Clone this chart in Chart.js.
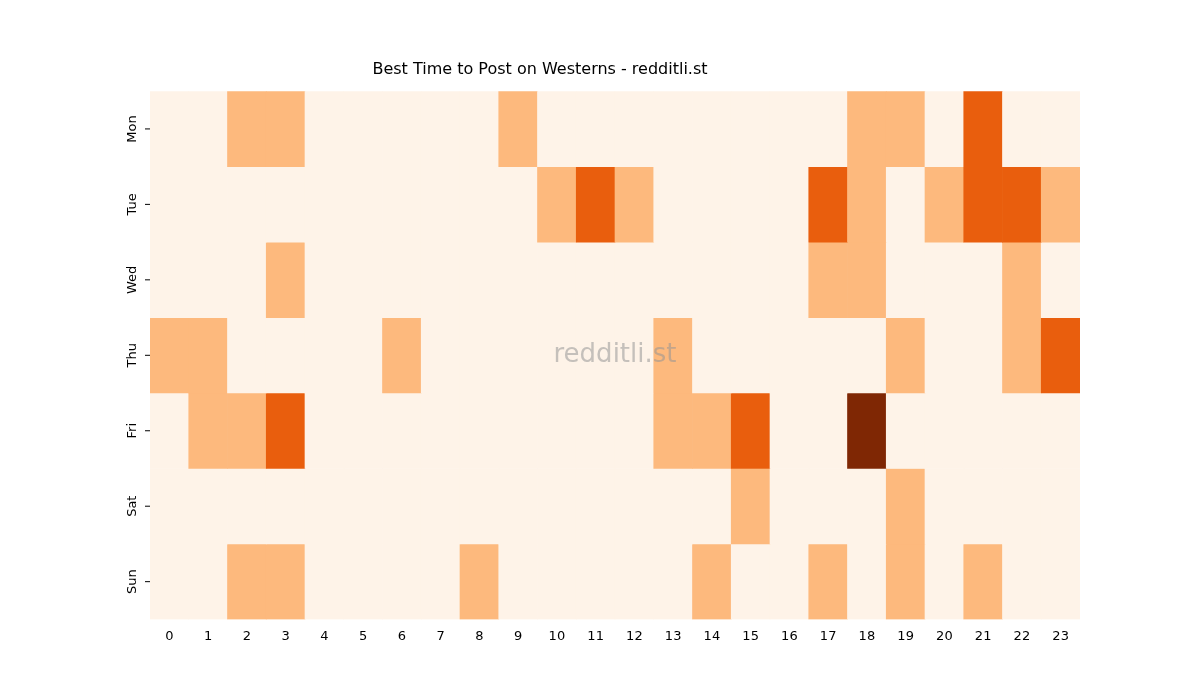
<!DOCTYPE html>
<html><head><meta charset="utf-8">
<script src="https://cdn.jsdelivr.net/npm/chart.js@4"></script>
<style>html,body{margin:0;padding:0;background:#fff}#w{width:1200px;height:700px}</style>
</head><body><div id="w"><canvas id="c"></canvas></div>
<script>
const hours = ["0","1","2","3","4","5","6","7","8","9","10","11","12","13","14","15","16","17","18","19","20","21","22","23"];
const days = ["Mon","Tue","Wed","Thu","Fri","Sat","Sun"];
const mon = [0,0,1,1,0,0,0,0,0,1,0,0,0,0,0,0,0,0,1,1,0,2,0,0];
const tue = [0,0,0,0,0,0,0,0,0,0,1,2,1,0,0,0,0,2,1,0,1,2,2,1];
const wed = [0,0,0,1,0,0,0,0,0,0,0,0,0,0,0,0,0,1,1,0,0,0,1,0];
const thu = [1,1,0,0,0,0,1,0,0,0,0,0,0,1,0,0,0,0,0,1,0,0,1,2];
const fri = [0,1,1,2,0,0,0,0,0,0,0,0,0,1,1,2,0,0,3,0,0,0,0,0];
const sat = [0,0,0,0,0,0,0,0,0,0,0,0,0,0,0,1,0,0,0,1,0,0,0,0];
const sun = [0,0,1,1,0,0,0,0,1,0,0,0,0,0,1,0,0,1,0,1,0,1,0,0];
const rows = [mon,tue,wed,thu,fri,sat,sun];
const palette = ["#fef3e8","#fdb97d","#e95e0d","#7f2704"];
const datasets = rows.map((vals,r)=>({
  label: days[r],
  data: hours.map(()=>[r-0.5,r+0.5]),
  backgroundColor: vals.map(v=>palette[v]),
  borderWidth: 0, barPercentage: 1, categoryPercentage: 1, grouped: false
}));
const extra = {
  id:'extra',
  afterDraw(chart){
    const ctx=chart.ctx, y=chart.scales.y, a=chart.chartArea;
    ctx.save();
    ctx.font='13px "DejaVu Sans"'; ctx.fillStyle='#000'; ctx.textAlign='center'; ctx.textBaseline='middle';
    days.forEach((d,i)=>{
      const py=y.getPixelForValue(i);
      ctx.strokeStyle='#000'; ctx.lineWidth=1;
      ctx.beginPath(); ctx.moveTo(a.left-5,py); ctx.lineTo(a.left,py); ctx.stroke();
      ctx.save(); ctx.translate(a.left-17,py); ctx.rotate(-Math.PI/2); ctx.fillText(d,0,0); ctx.restore();
    });
    ctx.font='26px "DejaVu Sans"'; ctx.fillStyle='rgba(150,150,150,0.55)';
    ctx.fillText('redditli.st',(a.left+a.right)/2,(a.top+a.bottom)/2);
    ctx.restore();
  }
};
new Chart(document.getElementById('c'),{
  type:'bar',
  data:{labels:hours,datasets},
  options:{
    responsive:true, maintainAspectRatio:false, animation:false,
    layout:{padding:{left:0,right:120,top:0,bottom:52}},
    plugins:{legend:{display:false},tooltip:{enabled:false},
      title:{display:true,text:'Best Time to Post on Westerns - redditli.st',color:'#000',
        font:{family:'DejaVu Sans',size:16,weight:'normal'},padding:{top:60,bottom:12}}},
    scales:{
      x:{type:'category',offset:true,grid:{display:false,drawOnChartArea:false,tickLength:5},border:{display:false},
        ticks:{color:'#000',font:{family:'DejaVu Sans',size:13},maxRotation:0,padding:4}},
      y:{type:'linear',reverse:true,min:-0.5,max:6.5,grid:{display:false},border:{display:false},
        ticks:{display:false},afterFit(s){s.width=150;}}
    }
  },
  plugins:[extra]
});
</script></body></html>
